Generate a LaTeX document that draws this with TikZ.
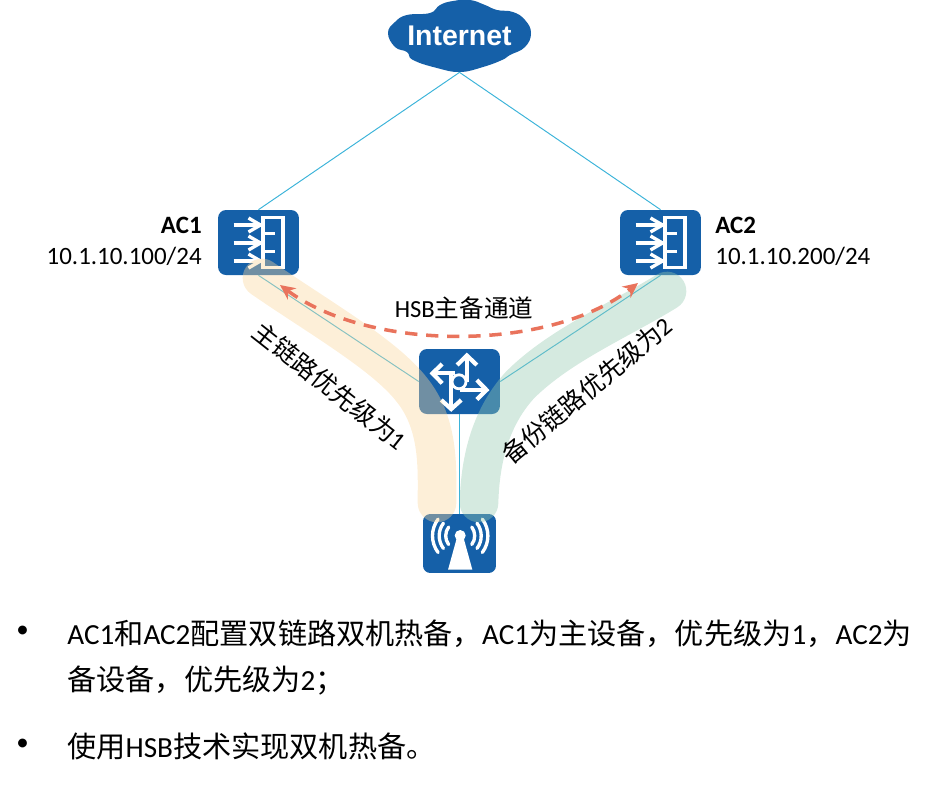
\documentclass[tikz,border=0pt]{standalone}
\usepackage{fontspec}
\setmainfont{Carlito}
\newfontfamily\cjk{Noto Sans CJK SC}
\newfontfamily\cloudfont{Liberation Sans}
\usetikzlibrary{arrows.meta}
\definecolor{devblue}{HTML}{1560A8}
\definecolor{linkblue}{HTML}{3BB3D9}
\definecolor{bandorange}{HTML}{FAD79D}
\definecolor{bandgreen}{HTML}{96CAB1}
\definecolor{hsbred}{HTML}{E9735C}
\tikzset{
  device/.style={fill=devblue,rounded corners=4.5pt,inner sep=0pt,minimum width=46pt,minimum height=37pt},
  apbox/.style={fill=devblue,rounded corners=4pt,inner sep=0pt,minimum width=41.5pt,minimum height=33.5pt},
  link/.style={draw=linkblue,line width=0.55pt},
  band/.style={line width=22pt,line cap=round,opacity=0.4},
  glyph/.style={draw=white,line width=1.9pt},
  label/.style={inner sep=0pt,font=\fontsize{14.2}{17}\selectfont},
  bodytext/.style={inner sep=0pt,anchor=west,font=\fontsize{16.6}{20}\selectfont},
  pics/acicon/.style={code={
    \draw[glyph] (4.5,-25) rectangle (24.5,25);
    \foreach \y in {-17.5,0.5,18.5} {
      \draw[glyph] (-25,\y) -- (2,\y);
      \draw[glyph] (-10,\y-7) -- (2,\y) -- (-10,\y+7);
    }
    \draw[glyph] (4,-9) -- (16,-9);
    \draw[glyph] (4,9) -- (16,9);
  }},
  pics/routericon/.style={code={
    \begin{scope}[glyph,line width=2.4pt]
    \draw (7.3,0) -- (7.3,-26);
    \draw (-2.3,-16.5) -- (7.3,-26) -- (17.3,-16.5);
    \draw (-5,-8.2) -- (-27,-8.2);
    \draw (-17.3,-17.5) -- (-27,-8.2) -- (-17.3,1.8);
    \draw (0,8.5) -- (27,8.5);
    \draw (17.3,-1.5) -- (27,8.5) -- (17.3,18);
    \draw (-8.3,-8) -- (-8.3,27.5);
    \draw (-18.3,18.5) -- (-8.3,27.5) -- (1.7,18.5);
    \end{scope}
    \draw[glyph,line width=1.6pt,fill=devblue] (-0.5,0.3) circle (7);
  }},
  pics/apicon/.style={code={
    \fill[white] (0.7,-8) circle (5.5);
    \fill[white] (-2,-8) -- (3.4,-8) -- (12.8,26) -- (-11.4,26) -- cycle;
    \foreach \r in {14.5,21,27.7} {
      \draw[glyph,line cap=round] (0.7,-7.7) ++(143:\r) arc[start angle=143,end angle=217,radius=\r];
      \draw[glyph,line cap=round] (0.7,-7.7) ++(37:\r) arc[start angle=37,end angle=-37,radius=\r];
    }
  }}
}
\begin{document}
\begin{tikzpicture}[x=0.02cm,y=-0.02cm]
\useasboundingbox (0,0) rectangle (930,792);
\fill[devblue] plot[smooth cycle,tension=0.75] coordinates {(388,33) (395,22) (407,15) (430,13) (440,5) (453,1) (470,0) (485,5) (497,10) (513,12) (525,20) (531,33) (525,47) (510,55) (502,60) (483,67) (460,72) (437,68) (413,60) (407,52) (395,47)};
\node[inner sep=0pt,minimum width=81pt,minimum height=41pt,text=white,font=\cloudfont\fontsize{16.2}{20}\selectfont\bfseries] (inet) at (459.5,36) {Internet};

\node[device] (ac1) at (258.5,242.5) {};
\node[device] (ac2) at (660.5,242.5) {};
\node[device] (sw) at (459.5,381.5) {};
\node[apbox] (ap) at (459.5,543.5) {};
\pic at (ac1) {acicon};
\pic at (ac2) {acicon};
\pic at (sw) {routericon};
\pic at (ap) {apicon};

\draw[link] (inet.south) -- (ac1.north);
\draw[link] (inet.south) -- (ac2.north);
\draw[link] (ac1.south) -- (sw.west);
\draw[link] (ac2.south) -- (sw.east);
\draw[link] (sw.south) -- (ap.north);

\draw[band,draw=bandorange] (262,278) .. controls (320,318) and (385,355) .. (412,390) .. controls (440,425) and (437,470) .. (437,503);
\draw[band,draw=bandgreen] (667,291) .. controls (620,320) and (560,345) .. (520,385) .. controls (488,420) and (480,465) .. (479,503);

\draw[hsbred,line width=2pt,dash pattern=on 7pt off 5pt,{Stealth[length=8.5pt,width=8pt]}-{Stealth[length=8.5pt,width=8pt]}] (280,285) .. controls (370,352) and (550,352) .. (638,283);

\node[label,font=\fontsize{14}{17}\selectfont] (hsb) at (464,308) {HSB{\cjk 主备通道}};
\node[label,rotate=-38.3] (mainlink) at (330,386) {{\cjk 主链路优先级为}1};
\node[label,rotate=39.7] (backuplink) at (587,390) {{\cjk 备份链路优先级为}2};

\node[label,anchor=east] (ac1name) at (202,225) {\bfseries AC1};
\node[label,anchor=east] (ac1addr) at (202,256) {10.1.10.100/24};
\node[label,anchor=west] (ac2name) at (715,225) {\bfseries AC2};
\node[label,anchor=west] (ac2addr) at (715,256) {10.1.10.200/24};

\node[label,anchor=center] (bullet1) at (22.5,632) {•};
\node[bodytext] (line1) at (67,634) {AC1{\cjk 和}AC2{\cjk 配置双链路双机热备，}AC1{\cjk 为主设备，优先级为}1{\cjk ，}AC2{\cjk 为}};
\node[bodytext] (line2) at (67,681) {{\cjk 备设备，优先级为}2{\cjk ；}};
\node[label,anchor=center] (bullet2) at (22.5,745) {•};
\node[bodytext] (line3) at (67,746) {{\cjk 使用}HSB{\cjk 技术实现双机热备。}};
\end{tikzpicture}
\end{document}
